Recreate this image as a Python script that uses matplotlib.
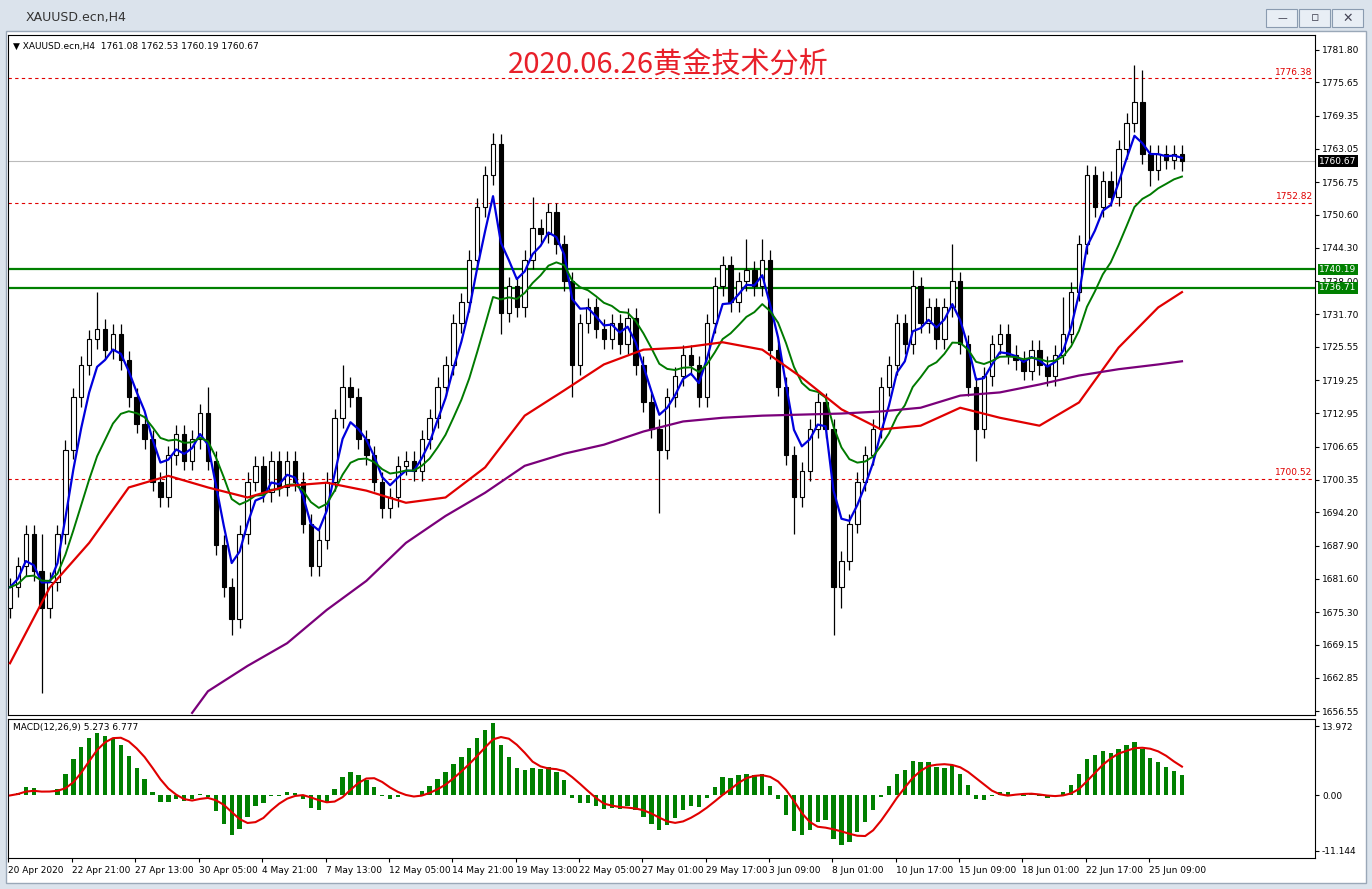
import matplotlib
matplotlib.use("Agg")
import matplotlib.pyplot as plt
import numpy as np
import pandas as pd

closes = [1680,1684,1690,1683,1676,1681,1690,1706,1716,1722,1727,1729,1725,1728,1723,1716,1711,1708,1700,1697,
          1705,1709,1704,1708,1713,1704,1688,1680,1674,1690,1700,1703,1698,1704,1699,1704,1700,1692,1684,1689,
          1700,1712,1718,1716,1708,1705,1700,1695,1697,1703,1704,1702,1708,1712,1718,1722,1730,1734,1742,1752,
          1758,1764,1732,1737,1733,1742,1748,1747,1751,1745,1738,1722,1730,1733,1729,1727,1730,1726,1731,1722,
          1715,1710,1706,1716,1720,1724,1722,1716,1730,1737,1741,1734,1738,1740,1737,1742,1725,1718,1705,1697,
          1702,1710,1715,1710,1680,1685,1692,1700,1705,1710,1718,1722,1730,1726,1737,1730,1733,1727,1733,1738,
          1726,1718,1710,1720,1726,1728,1724,1723,1721,1725,1722,1720,1724,1728,1736,1745,1758,1752,1757,1754,
          1763,1768,1772,1762,1759,1762,1761,1762,1760.67]
first_open = 1676
highs_notable = {4: 1690, 11: 1736, 25: 1718, 42: 1722, 61: 1766, 66: 1754, 93: 1746, 95: 1746,
                 114: 1740, 119: 1745, 133: 1735, 136: 1760, 142: 1779, 143: 1778}
lows_notable = {4: 1660, 28: 1671, 62: 1728, 71: 1716, 82: 1694, 99: 1690, 104: 1671, 105: 1676,
                122: 1704, 144: 1756}

red_idx = list(range(0, 146, 5)) + [148]
red_ma = [1665.6,1679.9,1688.4,1698.9,1701.1,1698.9,1697.0,1699.2,1699.8,1698.3,1696.0,1697.0,1702.7,1712.5,
          1717.3,1722.2,1725.0,1725.4,1726.4,1725.0,1719.7,1713.7,1709.9,1710.6,1714.0,1712.1,1710.6,1715.0,
          1725.4,1733.0,1735.9]
purple_idx = [23] + list(range(25, 146, 5)) + [148]
purple_ma = [1656.2,1660.3,1665.1,1669.4,1675.7,1681.2,1688.4,1693.5,1697.9,1703.0,1705.3,1707.0,1709.5,
             1711.4,1712.1,1712.5,1712.7,1712.9,1713.3,1714.0,1716.3,1716.9,1718.4,1720.1,1721.3,1722.2,1722.8]

hlines_red = [1776.38, 1752.82, 1700.52]
hlines_green = [1740.19, 1736.71]
last_price = 1760.67
price_ticks = [1781.80,1775.65,1769.35,1763.05,1756.75,1750.60,1744.30,1738.00,1731.70,1725.55,1719.25,
               1712.95,1706.65,1700.35,1694.20,1687.90,1681.60,1675.30,1669.15,1662.85,1656.55]
date_labels = ["20 Apr 2020","22 Apr 21:00","27 Apr 13:00","30 Apr 05:00","4 May 21:00","7 May 13:00",
               "12 May 05:00","14 May 21:00","19 May 13:00","22 May 05:00","27 May 01:00","29 May 17:00",
               "3 Jun 09:00","8 Jun 01:00","10 Jun 17:00","15 Jun 09:00","18 Jun 01:00","22 Jun 17:00",
               "25 Jun 09:00"]
date_pos = [-0.2] + [7.85 + 8 * k for k in range(18)]

plt.rcParams['font.family'] = ['DejaVu Sans']
W, H = 1372, 889
fig = plt.figure(figsize=(W / 100, H / 100), dpi=100)
fig.patch.set_facecolor('#dbe3ec')
bg = fig.add_axes([0, 0, 1, 1], zorder=-10)
bg.set_xlim(0, W); bg.set_ylim(H, 0); bg.axis('off')
bg.add_patch(plt.Rectangle((6, 31), 1360, 852, facecolor='white', edgecolor='#9aa8b8', lw=1))
for bx in (1282, 1315, 1348):
    bg.add_patch(plt.Rectangle((bx - 16, 9), 31, 18, facecolor='#e8eef5', edgecolor='#8a9bb0', lw=0.8))
bg.text(26, 17, "XAUUSD.ecn,H4", fontsize=9, color='#333', va='center')
bg.text(1282, 18, "—", fontsize=7, ha='center', va='center', color='#445')
bg.text(1315, 18, "▫", fontsize=9, ha='center', va='center', color='#445')
bg.text(1348, 18, "✕", fontsize=9, ha='center', va='center', color='#445')

ax = fig.add_axes([8 / W, 1 - 715 / H, (1315 - 8) / W, (715 - 35) / H])
ax2 = fig.add_axes([8 / W, 1 - 858 / H, (1315 - 8) / W, (858 - 719) / H])

c = np.array(closes, dtype=float)
o = np.concatenate([[first_open], c[:-1]])
n = len(c)
idx = np.arange(n)
hi = np.maximum(o, c) + 1.8
lo = np.minimum(o, c) - 1.8
for k, v in highs_notable.items():
    hi[k] = v
for k, v in lows_notable.items():
    lo[k] = v

for i in range(n):
    ax.vlines(i, lo[i], hi[i], color='black', lw=0.9, zorder=3)
    bull = c[i] >= o[i]
    b0, b1 = min(o[i], c[i]), max(o[i], c[i])
    if b1 - b0 < 0.3:
        b1 = b0 + 0.3
    ax.add_patch(plt.Rectangle((i - 0.28, b0), 0.56, b1 - b0, facecolor='white' if bull else 'black',
                               edgecolor='black', lw=0.8, zorder=4))

s = pd.Series(c)
blue = s.ewm(span=4, adjust=False).mean()
green = s.ewm(span=12, adjust=False).mean()
ax.plot(idx, blue, color='#0000dd', lw=1.6, zorder=5)
ax.plot(idx, green, color='#007a00', lw=1.4, zorder=5)
ax.plot(red_idx, red_ma, color='#e00000', lw=1.6, zorder=5)
ax.plot(purple_idx, purple_ma, color='#7a007a', lw=1.6, zorder=5)

xmax = 164.8
for v in hlines_red:
    ax.axhline(v, color='#e00000', lw=0.8, ls=(0, (3, 3)), zorder=2)
    ax.text(xmax - 0.3, v + 0.3, f"{v:.2f}", color='#e00000', fontsize=6.5, ha='right', va='bottom')
for v in hlines_green:
    ax.axhline(v, color='#008000', lw=1.6, zorder=2)
ax.axhline(last_price, color='#bbbbbb', lw=0.8, zorder=1)

ax.set_xlim(-0.25, xmax)
ax.set_ylim(1655.8, 1784.6)
ax.yaxis.tick_right()
ax.set_yticks(price_ticks)
ax.set_yticklabels([f"{t:.2f}" for t in price_ticks], fontsize=6.5)
ax.tick_params(axis='y', length=3, pad=2)
ax.set_xticks([])
for side in ax.spines.values():
    side.set_linewidth(0.8)
trans = ax.get_yaxis_transform()
for v in hlines_green:
    ax.text(1.003, v, f"{v:.2f}", transform=trans, fontsize=6.5, color='white', va='center', ha='left',
            bbox=dict(boxstyle='square,pad=0.15', facecolor='#008000', edgecolor='none'), zorder=10)
ax.text(1.003, last_price, f"{last_price:.2f}", transform=trans, fontsize=6.5, color='white', va='center',
        ha='left', bbox=dict(boxstyle='square,pad=0.15', facecolor='black', edgecolor='none'), zorder=10)
ax.text(0.004, 0.99, "▼ XAUUSD.ecn,H4  1761.08 1762.53 1760.19 1760.67", transform=ax.transAxes,
        fontsize=6.5, va='top', ha='left')
ax.text(0.505, 0.978, "2020.06.26黄金技术分析", transform=ax.transAxes, fontsize=21, color='#e8202a',
        ha='center', va='top', family=['Noto Sans CJK SC', 'DejaVu Sans'])

# MACD
ema_f = s.ewm(span=6, adjust=False).mean()
ema_s = s.ewm(span=13, adjust=False).mean()
macd = (ema_f - ema_s) * 1.0
signal = macd.rolling(5, min_periods=1).mean()
ax2.bar(idx, macd, width=0.55, color='#008000', zorder=3)
ax2.plot(idx, signal, color='#e00000', lw=1.5, zorder=4)
ax2.set_xlim(-0.25, xmax)
ax2.set_ylim(-12.6, 15.4)
ax2.yaxis.tick_right()
ax2.set_yticks([13.972, 0.0, -11.144])
ax2.set_yticklabels(["13.972", "0.00", "-11.144"], fontsize=6.5)
ax2.tick_params(axis='y', length=3, pad=2)
ax2.set_xticks(date_pos)
ax2.set_xticklabels(date_labels, fontsize=6.5, ha='left')
ax2.tick_params(axis='x', length=3, pad=3)
ax2.text(0.004, 0.97, "MACD(12,26,9) 5.273 6.777", transform=ax2.transAxes, fontsize=6.5, va='top')
for side in ax2.spines.values():
    side.set_linewidth(0.8)

fig.savefig("out.png", dpi=100, facecolor=fig.get_facecolor())
